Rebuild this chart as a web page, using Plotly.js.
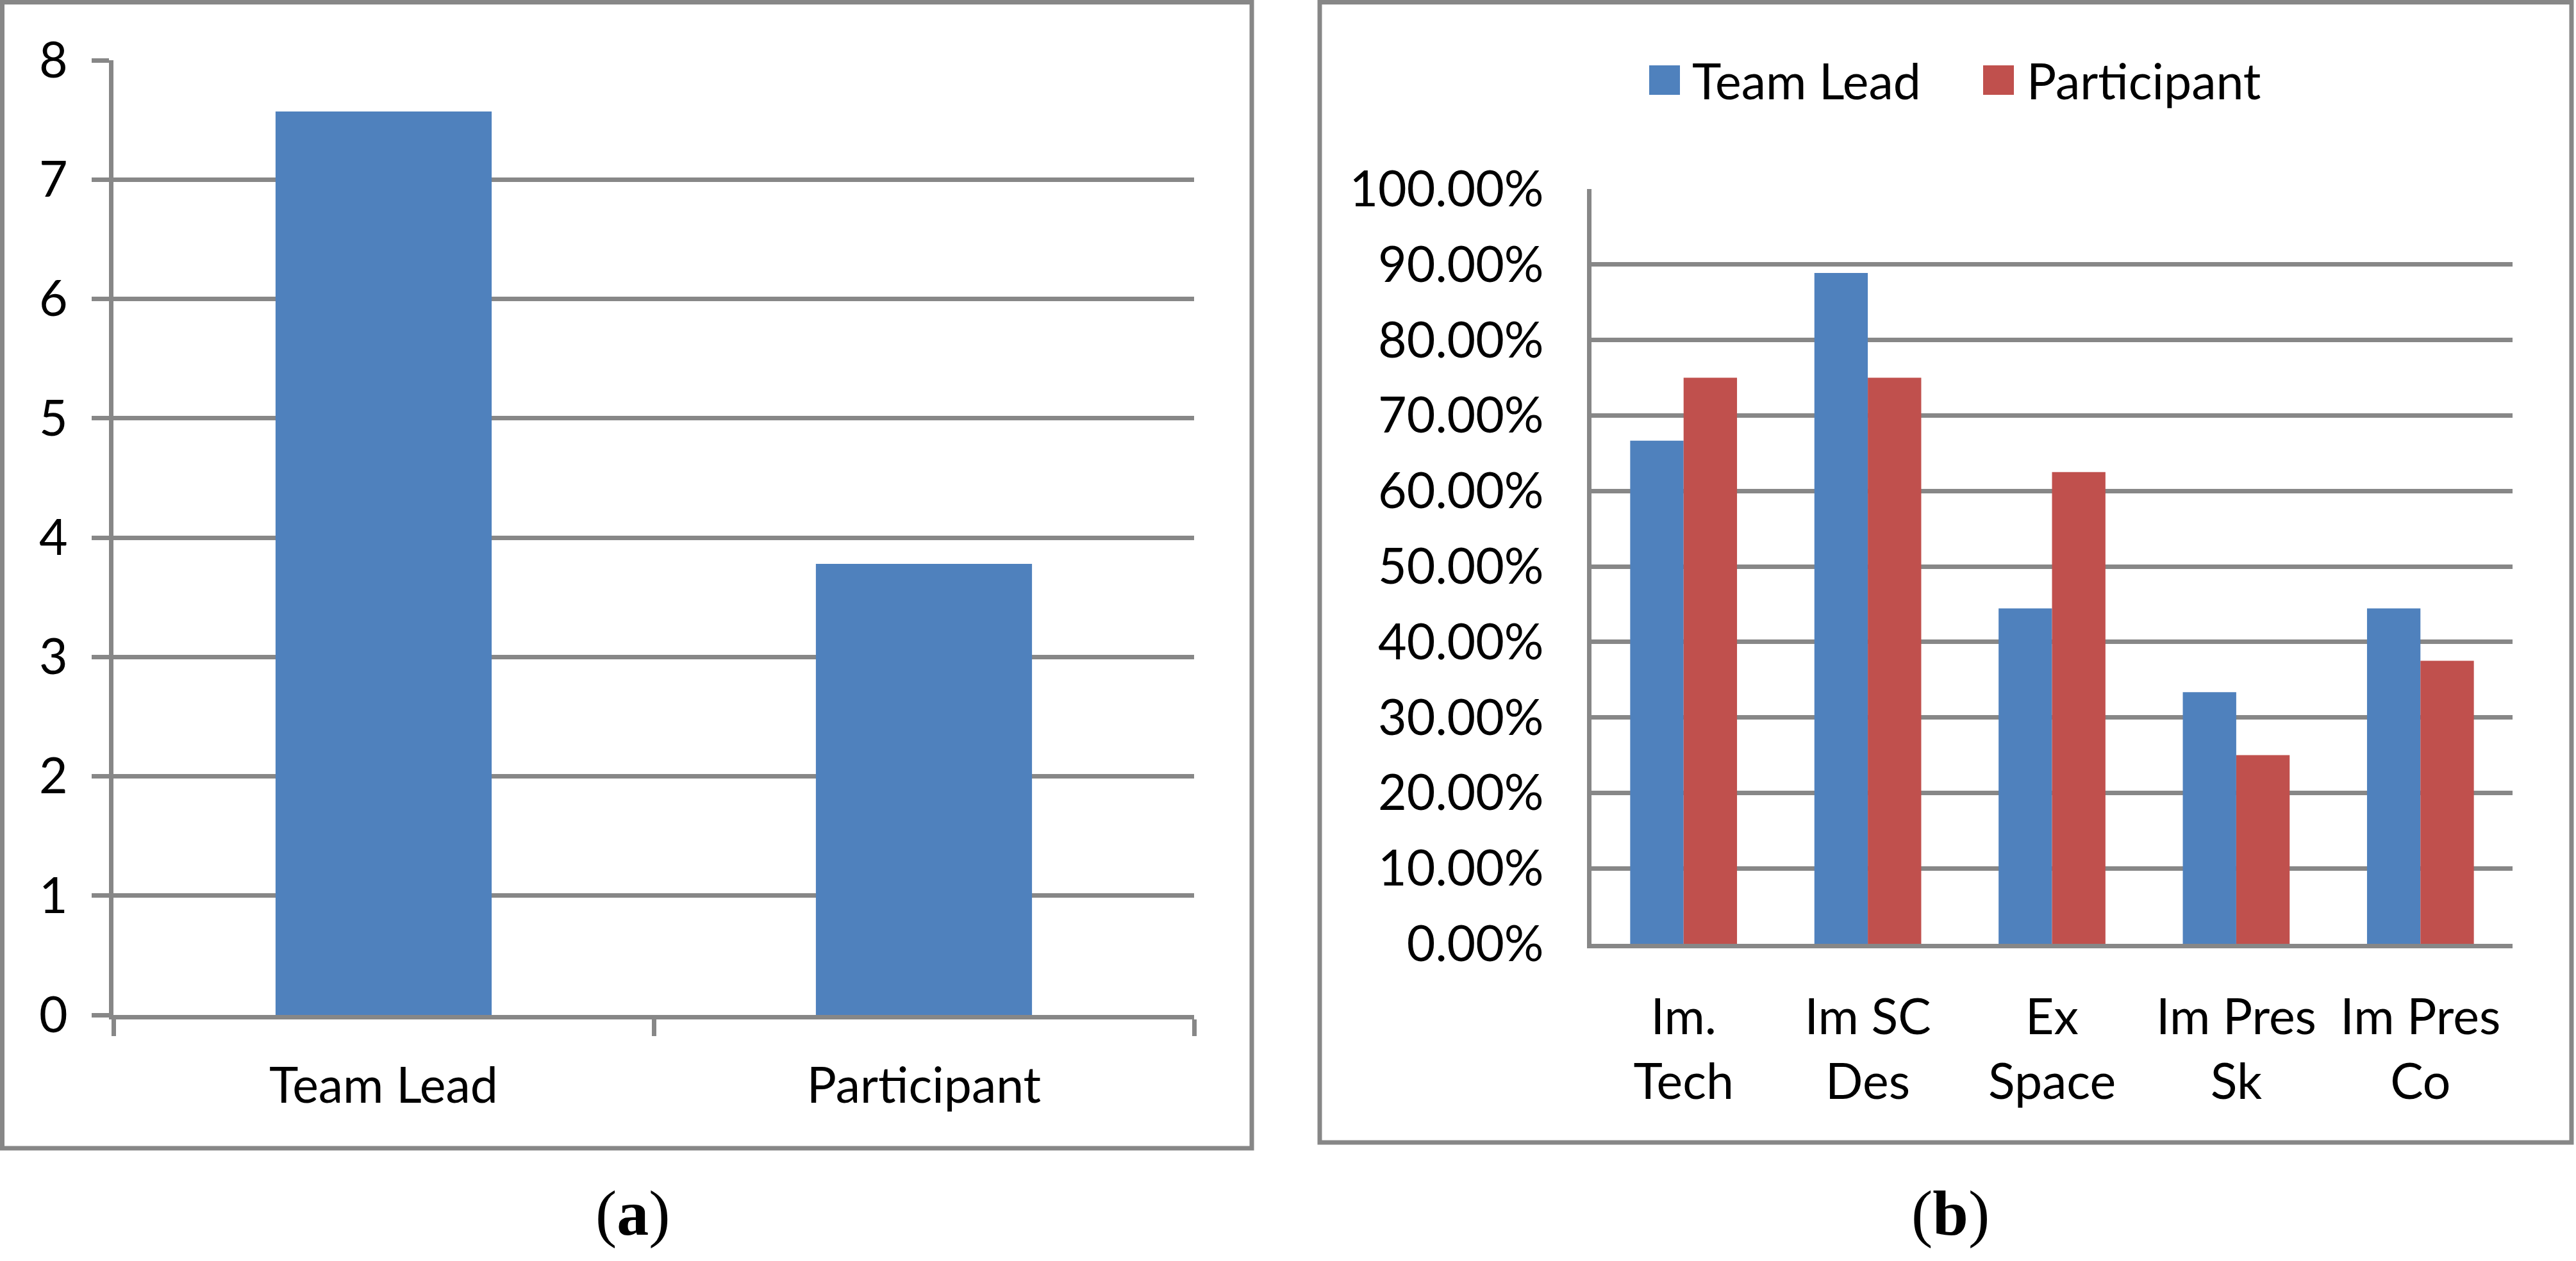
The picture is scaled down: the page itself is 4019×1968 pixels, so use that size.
<!DOCTYPE html>
<html>
<head>
<meta charset="utf-8">
<script src="https://cdn.plot.ly/plotly-3.0.1.min.js"></script>
<style>html,body{margin:0;padding:0;background:#fff;}#chart{width:4019px;height:1968px;}</style>
</head>
<body>
<div id="chart"></div>
<script>
// ---- data ----
const categoriesA = ['Team Lead', 'Participant'];
const valuesA = [7.57, 3.78];

const categoriesB = ['Im.<br>Tech', 'Im SC<br>Des', 'Ex<br>Space', 'Im Pres<br>Sk', 'Im Pres<br>Co'];
const seriesNamesB = ['Team Lead', 'Participant'];
const teamLeadB = [0.6667, 0.8889, 0.4444, 0.3333, 0.4444];
const participantB = [0.75, 0.75, 0.625, 0.25, 0.375];

const panelLabels = ['(<b>a</b>)', '(<b>b</b>)'];

// ---- layout helpers ----
const W = 4019, H = 1968;
const px = x => x / W;
const py = y => 1 - y / H;
const GRAY = '#878787';
const BLUE = '#4F81BD';
const RED = '#C0504D';
const FONT = 'Lato, Carlito, "Open Sans", sans-serif';
const FS = 77;

const traces = [
  {
    type: 'bar', x: categoriesA, y: valuesA, xaxis: 'x', yaxis: 'y',
    marker: {color: BLUE}, width: 0.4, showlegend: false, name: 'Value'
  },
  {
    type: 'bar', x: categoriesB, y: teamLeadB, xaxis: 'x2', yaxis: 'y2',
    marker: {color: BLUE}, name: seriesNamesB[0], showlegend: false
  },
  {
    type: 'bar', x: categoriesB, y: participantB, xaxis: 'x2', yaxis: 'y2',
    marker: {color: RED}, name: seriesNamesB[1], showlegend: false
  }
];

const tickfont = {family: FONT, size: FS, color: '#000'};

const layout = {
  width: W, height: H, autosize: false,
  margin: {l: 0, r: 0, t: 0, b: 0, pad: 0},
  paper_bgcolor: '#fff', plot_bgcolor: '#fff',
  barmode: 'group', bargap: 0.42, bargroupgap: 0,
  showlegend: false,
  xaxis: {
    domain: [px(177), px(1863)], anchor: 'y',
    showline: true, linecolor: GRAY, linewidth: 7,
    ticks: 'outside', tickson: 'boundaries', ticklen: 26, tickwidth: 7, tickcolor: GRAY,
    showgrid: false, zeroline: false, tickfont: tickfont, ticklabelstandoff: 38
  },
  yaxis: {
    domain: [py(1584), py(94)], anchor: 'x', range: [0, 8], dtick: 1, tick0: 0,
    showline: true, linecolor: GRAY, linewidth: 7,
    ticks: 'outside', ticklen: 27, tickwidth: 7, tickcolor: GRAY,
    showgrid: true, gridcolor: GRAY, gridwidth: 7, zeroline: false,
    tickfont: tickfont, ticklabelstandoff: 22
  },
  xaxis2: {
    domain: [px(2483), px(3920)], anchor: 'y2',
    showline: true, linecolor: GRAY, linewidth: 7,
    ticks: '', showgrid: false, zeroline: false, tickfont: tickfont, ticklabelstandoff: 42
  },
  yaxis2: {
    domain: [py(1473), py(295)], anchor: 'x2', range: [0, 1], dtick: 0.1, tick0: 0,
    tickformat: '.2%',
    showline: true, linecolor: GRAY, linewidth: 7,
    ticks: '', showgrid: true, gridcolor: GRAY, gridwidth: 7, zeroline: false,
    tickfont: tickfont, ticklabelstandoff: 52
  },
  shapes: [
    {type: 'rect', xref: 'paper', yref: 'paper', x0: px(3.5), x1: px(1953), y0: py(1792), y1: py(3.5),
     line: {color: GRAY, width: 7}, fillcolor: 'rgba(0,0,0,0)', layer: 'below'},
    {type: 'rect', xref: 'paper', yref: 'paper', x0: px(2059), x1: px(4012), y0: py(1783), y1: py(3.5),
     line: {color: GRAY, width: 7}, fillcolor: 'rgba(0,0,0,0)', layer: 'below'},
    // legend swatches
    {type: 'rect', xref: 'paper', yref: 'paper', x0: px(2573), x1: px(2621), y0: py(148), y1: py(102),
     line: {width: 0}, fillcolor: BLUE},
    {type: 'rect', xref: 'paper', yref: 'paper', x0: px(3094), x1: px(3142), y0: py(148), y1: py(102),
     line: {width: 0}, fillcolor: RED}
  ],
  annotations: [
    {xref: 'paper', yref: 'paper', x: px(2638), y: py(125), xanchor: 'left', yanchor: 'middle',
     text: seriesNamesB[0], showarrow: false, font: {family: FONT, size: FS, color: '#000'}},
    {xref: 'paper', yref: 'paper', x: px(3160), y: py(125), xanchor: 'left', yanchor: 'middle',
     text: seriesNamesB[1], showarrow: false, font: {family: FONT, size: FS, color: '#000'}},
    {xref: 'paper', yref: 'paper', x: px(987), y: py(1893), xanchor: 'center', yanchor: 'middle',
     text: panelLabels[0], showarrow: false, font: {family: '"Liberation Serif", "Times New Roman", serif', size: 100, color: '#000'}},
    {xref: 'paper', yref: 'paper', x: px(3043), y: py(1893), xanchor: 'center', yanchor: 'middle',
     text: panelLabels[1], showarrow: false, font: {family: '"Liberation Serif", "Times New Roman", serif', size: 100, color: '#000'}}
  ]
};

Plotly.newPlot('chart', traces, layout, {displayModeBar: false, staticPlot: true});
</script>
</body>
</html>
